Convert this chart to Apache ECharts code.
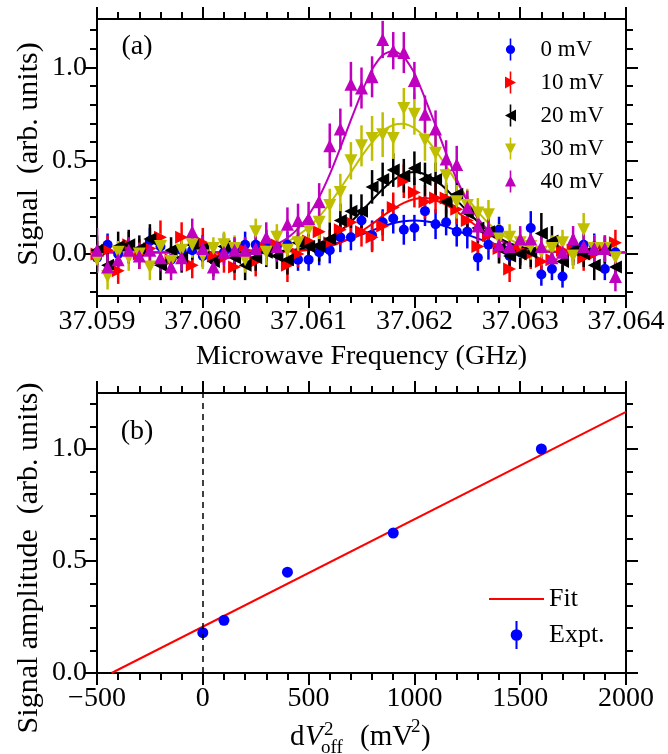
<!DOCTYPE html>
<html><head><meta charset="utf-8">
<script src="https://cdn.jsdelivr.net/npm/echarts@6/dist/echarts.min.js"></script>
<style>html,body{margin:0;padding:0;background:#fff}#c{width:668px;height:754px}</style>
</head><body><div id="c"></div>
<script>
// ---------- Panel (a) data ----------
const freq = [37.0590,37.0591,37.0592,37.0593,37.0594,37.0595,37.0596,37.0597,37.0598,37.0599,
  37.0600,37.0601,37.0602,37.0603,37.0604,37.0605,37.0606,37.0607,37.0608,37.0609,
  37.0610,37.0611,37.0612,37.0613,37.0614,37.0615,37.0616,37.0617,37.0618,37.0619,
  37.0620,37.0621,37.0622,37.0623,37.0624,37.0625,37.0626,37.0627,37.0628,37.0629,
  37.0630,37.0631,37.0632,37.0633,37.0634,37.0635,37.0636,37.0637,37.0638,37.0639,37.0640];

const sig0 = [-0.02,0.05,0.00,0.02,0.00,0.07,0.04,-0.03,0.02,0.02,
  -0.01,-0.03,0.01,0.02,0.05,0.05,0.06,0.04,0.05,-0.03,
  -0.03,0.01,0.02,0.09,0.09,0.18,0.10,0.17,0.19,0.13,
  0.14,0.23,0.16,0.17,0.12,0.12,-0.02,0.05,0.13,-0.01,
  0.01,0.14,-0.11,-0.08,-0.12,0.03,0.05,0.04,-0.08,0.01,null];
const sig10 = [0.00,0.02,-0.09,0.05,0.00,0.03,0.09,-0.03,0.09,-0.06,
  0.06,-0.01,-0.02,-0.07,0.02,-0.04,0.03,0.05,-0.06,0.00,
  0.07,0.12,0.06,0.13,0.17,0.12,0.09,0.15,0.25,0.39,
  0.33,0.28,0.30,0.30,0.24,0.18,0.04,0.10,0.03,-0.08,
  0.02,0.00,-0.04,-0.03,0.02,0.02,-0.02,0.00,0.03,0.06,null];
const sig20 = [0.02,-0.06,0.04,0.05,0.03,0.08,-0.06,0.02,-0.02,0.05,
  0.03,-0.04,0.04,-0.02,-0.06,-0.02,0.01,-0.01,-0.03,0.06,
  0.04,0.04,0.08,0.18,0.23,0.23,0.36,0.40,0.45,0.42,
  0.46,0.40,0.40,0.28,0.32,0.22,0.14,0.12,0.03,-0.01,
  0.00,0.01,0.11,0.07,-0.04,0.02,0.00,-0.06,0.02,-0.07,null];
const sig30 = [-0.03,-0.12,0.01,-0.02,0.00,-0.07,0.04,-0.04,0.02,0.05,
  -0.01,0.03,0.05,0.03,-0.03,0.12,0.01,0.09,0.02,0.06,
  0.13,0.17,0.26,0.33,0.50,0.58,0.62,0.64,0.62,0.78,
  0.75,0.61,0.54,0.42,0.28,0.26,0.22,0.21,0.08,0.09,
  0.06,0.04,0.01,0.03,0.06,-0.01,0.13,0.03,0.03,-0.02,null];
const sig40 = [0.02,-0.07,-0.03,0.02,-0.01,0.02,-0.02,-0.07,-0.02,0.12,
  0.03,-0.07,0.01,0.02,0.02,0.03,0.09,0.04,0.16,0.18,
  0.19,0.28,0.58,0.67,0.91,0.89,0.95,1.15,1.09,1.08,
  0.93,0.75,0.67,0.51,0.48,0.25,0.15,0.13,0.05,0.04,
  0.08,0.08,0.04,-0.02,0.01,0.08,0.04,0.03,0.03,-0.12,null];

const err0 = [0.07,0.06,0.07,0.06,0.06,0.07,0.06,0.07,0.06,0.07,
  0.06,0.07,0.06,0.06,0.07,0.06,0.07,0.06,0.07,0.06,
  0.06,0.07,0.07,0.08,0.07,0.07,0.08,0.07,0.08,0.08,
  0.07,0.08,0.08,0.07,0.08,0.09,0.07,0.08,0.07,0.08,
  0.07,0.09,0.06,0.06,0.06,0.07,0.06,0.07,0.06,0.06,null];
const err10 = [0.07,0.08,0.07,0.07,0.08,0.07,0.09,0.07,0.08,0.07,
  0.08,0.07,0.08,0.07,0.07,0.08,0.07,0.08,0.09,0.07,
  0.07,0.08,0.07,0.08,0.07,0.08,0.08,0.08,0.08,0.09,
  0.08,0.09,0.08,0.08,0.08,0.08,0.08,0.08,0.08,0.07,
  0.07,0.08,0.07,0.07,0.07,0.08,0.07,0.07,0.07,0.07,null];
const err20 = [0.08,0.07,0.08,0.08,0.07,0.08,0.08,0.07,0.08,0.08,
  0.07,0.08,0.07,0.08,0.08,0.07,0.08,0.07,0.08,0.08,
  0.08,0.08,0.09,0.09,0.09,0.09,0.09,0.09,0.09,0.09,
  0.09,0.09,0.09,0.09,0.09,0.09,0.08,0.08,0.08,0.08,
  0.08,0.08,0.11,0.08,0.07,0.08,0.07,0.08,0.07,0.08,null];
const err30 = [0.07,0.07,0.06,0.07,0.06,0.07,0.07,0.06,0.07,0.07,
  0.07,0.06,0.07,0.07,0.07,0.07,0.07,0.07,0.07,0.08,
  0.08,0.09,0.09,0.10,0.10,0.11,0.12,0.12,0.11,0.11,
  0.11,0.11,0.10,0.10,0.09,0.09,0.08,0.08,0.08,0.07,
  0.08,0.07,0.07,0.07,0.07,0.07,0.09,0.07,0.07,0.07,null];
const err40 = [0.12,0.07,0.07,0.07,0.07,0.07,0.07,0.07,0.07,0.07,
  0.07,0.07,0.07,0.07,0.07,0.07,0.08,0.08,0.09,0.09,
  0.09,0.10,0.12,0.11,0.12,0.11,0.11,0.10,0.10,0.11,
  0.10,0.10,0.10,0.10,0.10,0.09,0.08,0.08,0.07,0.07,
  0.07,0.07,0.07,0.07,0.07,0.07,0.07,0.07,0.07,0.08,null];

// fitted curves at each frequency in freq
const fit0 = [0.01,0.01,0.01,0.01,0.01,0.01,0.01,0.01,0.01,0.01,
  0.01,0.01,0.01,0.01,0.01,0.01,0.012,0.013,0.016,0.020,
  0.026,0.035,0.047,0.063,0.083,0.104,0.126,0.147,0.165,0.176,
  0.18,0.176,0.165,0.147,0.126,0.104,0.083,0.063,0.047,0.035,
  0.026,0.020,0.016,0.013,0.012,0.01,0.01,0.01,0.01,0.01,0.01];
const fit10 = [0.01,0.01,0.01,0.01,0.01,0.01,0.01,0.01,0.01,0.01,
  0.01,0.01,0.01,0.01,0.01,0.01,0.01,0.011,0.013,0.016,
  0.021,0.029,0.042,0.062,0.088,0.122,0.161,0.203,0.242,0.274,
  0.295,0.30,0.288,0.263,0.227,0.186,0.145,0.107,0.077,0.053,
  0.036,0.025,0.018,0.014,0.012,0.01,0.01,0.01,0.01,0.01,0.01];
const fit20 = [0.01,0.01,0.01,0.01,0.01,0.01,0.01,0.01,0.01,0.01,
  0.01,0.01,0.01,0.01,0.01,0.01,0.012,0.014,0.019,0.026,
  0.039,0.058,0.086,0.124,0.172,0.229,0.289,0.347,0.396,0.428,
  0.44,0.428,0.396,0.347,0.289,0.229,0.172,0.124,0.086,0.058,
  0.039,0.026,0.019,0.014,0.012,0.01,0.01,0.01,0.01,0.01,0.01];
const fit30 = [0.01,0.01,0.01,0.01,0.01,0.01,0.01,0.01,0.01,0.01,
  0.01,0.01,0.01,0.013,0.016,0.022,0.031,0.045,0.067,0.100,
  0.143,0.200,0.271,0.351,0.437,0.523,0.599,0.658,0.692,0.699,
  0.675,0.625,0.555,0.472,0.385,0.302,0.227,0.165,0.116,0.079,
  0.053,0.036,0.025,0.018,0.014,0.012,0.01,0.01,0.01,0.01,0.01];
const fit40 = [0.01,0.01,0.01,0.01,0.01,0.01,0.01,0.01,0.01,0.01,
  0.01,0.01,0.011,0.013,0.016,0.022,0.033,0.053,0.086,0.136,
  0.208,0.305,0.427,0.569,0.719,0.863,0.99,1.067,1.09,1.056,
  0.97,0.835,0.689,0.540,0.401,0.284,0.192,0.124,0.078,0.048,
  0.030,0.020,0.015,0.012,0.01,0.01,0.01,0.01,0.01,0.01,0.01];

const seriesNames = ['0 mV','10 mV','20 mV','30 mV','40 mV'];

// ---------- Panel (b) data ----------
const dV2 = [0, 100, 400, 900, 1600];
const amp = [0.18, 0.235, 0.45, 0.625, 1.0];
const ampErr = [0.01, 0.01, 0.01, 0.01, 0.01];
const fitX = [-431, 2000];
const fitY = [0, 1.166];

// ---------- tick values ----------
const topYMajor = [0, 0.5, 1.0];
const topYMinor = [-0.2,-0.1,0.1,0.2,0.3,0.4,0.6,0.7,0.8,0.9,1.1,1.2];
const botYMajor = [0, 0.5, 1.0];
const botYMinor = [0.1,0.2,0.3,0.4,0.6,0.7,0.8,0.9,1.1,1.2];

// ---------- styling ----------
const FONT = '"Liberation Serif","Times New Roman",serif';
const BLACK = '#000';
const LW = 2;
const COLORS = ['#0000FF','#FF0000','#000000','#BFBF00','#BF00BF'];
const SYMBOLS = ['circle','triangle','triangle','triangle','triangle'];
const ROTS = [0,-90,90,180,0];
const SIZES = [10,13,13,13,13];
const ICONS = [
  'path://M5.2,0H6.8V7H5.2Z M5.2,15H6.8V22H5.2Z M1.4,11 A4.6,4.6 0 1 1 10.6,11 A4.6,4.6 0 1 1 1.4,11 Z',
  'path://M5.2,0H6.8V8H5.2Z M5.2,14H6.8V22H5.2Z M0.5,5 L11.5,11 L0.5,17 Z',
  'path://M5.2,0H6.8V8H5.2Z M5.2,14H6.8V22H5.2Z M11.5,5 L11.5,17 L0.5,11 Z',
  'path://M5.2,0H6.8V8H5.2Z M5.2,14H6.8V22H5.2Z M0.5,6 L11.5,6 L6,17 Z',
  'path://M5.2,0H6.8V8H5.2Z M5.2,14H6.8V22H5.2Z M6,5 L11.5,16 L0.5,16 Z'
];
const LINE_ICON = 'path://M0,0H100V3.6H0Z';

function xAx(grid, pos, min, max, interval, showLabel, fmt, name) {
  return {type:'value', gridIndex:grid, position:pos, min:min, max:max, interval:interval,
    axisLine:{show:true,onZero:false,lineStyle:{color:BLACK,width:LW}},
    axisTick:{show:true,inside:false,length:12,lineStyle:{color:BLACK,width:LW}},
    minorTick:{show:true,splitNumber:5,length:7,lineStyle:{color:BLACK,width:LW}},
    splitLine:{show:false}, minorSplitLine:{show:false},
    axisLabel:{show:showLabel, formatter:fmt, fontFamily:FONT, fontSize:28, color:BLACK, margin:12,
      showMinLabel:true, showMaxLabel:true},
    name:name||'', nameLocation:'middle', nameGap:47,
    nameTextStyle:{fontFamily:FONT,fontSize:28,color:BLACK}};
}
function yAx(grid, pos, min, max, ticks, len, showLabel) {
  return {type:'value', gridIndex:grid, position:pos, min:min, max:max,
    axisLine:{show:true,onZero:false,lineStyle:{color:BLACK,width:LW}},
    axisTick:{show:true,inside:false,length:len,customValues:ticks,lineStyle:{color:BLACK,width:LW}},
    axisLabel:{show:showLabel, customValues:ticks, formatter:function(v){return Number(v).toFixed(1);},
      fontFamily:FONT, fontSize:28, color:BLACK, margin:10},
    splitLine:{show:false}};
}
function errRender(color, w) {
  return function(params, api) {
    const x = api.value(0), y = api.value(1), e = api.value(2);
    const p1 = api.coord([x, y - e]), p2 = api.coord([x, y + e]);
    return {type:'line', shape:{x1:p1[0],y1:p1[1],x2:p2[0],y2:p2[1]},
      style:{stroke:color, lineWidth:w}};
  };
}

const sigs = [sig0, sig10, sig20, sig30, sig40];
const errs = [err0, err10, err20, err30, err40];
const fits = [fit0, fit10, fit20, fit30, fit40];

const series = [];
for (let k = 0; k < 5; k++) {
  series.push({type:'line', name:seriesNames[k]+' fit', xAxisIndex:0, yAxisIndex:0,
    data: freq.map(function(x,i){return [x, fits[k][i]];}), symbol:'none', showSymbol:false,
    smooth:0.2, lineStyle:{color:COLORS[k], width:2}, z:2, silent:true, clip:true});
}
for (let k = 0; k < 5; k++) {
  series.push({type:'custom', name:seriesNames[k]+' err', xAxisIndex:0, yAxisIndex:0,
    data: freq.map(function(x,i){return [x, sigs[k][i], errs[k][i]];}).filter(function(d){return d[1]!==null;}),
    renderItem: errRender(COLORS[k], 2.5), encode:{x:0,y:1}, z:3, silent:true, clip:true});
  series.push({type:'scatter', name:seriesNames[k], xAxisIndex:0, yAxisIndex:0,
    data: freq.map(function(x,i){return [x, sigs[k][i]];}).filter(function(d){return d[1]!==null;}),
    symbol:SYMBOLS[k], symbolRotate:ROTS[k], symbolSize:SIZES[k],
    itemStyle:{color:COLORS[k], opacity:1}, z:4, clip:true, silent:true});
}
series.push({type:'line', name:'Fit', xAxisIndex:2, yAxisIndex:4,
  data: fitX.map(function(x,i){return [x, fitY[i]];}), symbol:'none', showSymbol:false,
  lineStyle:{color:'#FF0000', width:2}, itemStyle:{color:'#FF0000'}, z:2, silent:true,
  markLine:{silent:true, symbol:'none', label:{show:false},
    lineStyle:{color:BLACK, type:[6,5], width:1.5}, data:[{xAxis:0}]}});
series.push({type:'custom', name:'Expt. err', xAxisIndex:2, yAxisIndex:4,
  data: dV2.map(function(x,i){return [x, amp[i], ampErr[i]];}),
  renderItem: errRender('#0000FF', 2.5), encode:{x:0,y:1}, z:3, silent:true});
series.push({type:'scatter', name:'Expt.', xAxisIndex:2, yAxisIndex:4,
  data: dV2.map(function(x,i){return [x, amp[i]];}), symbol:'circle', symbolSize:11,
  itemStyle:{color:'#0000FF', opacity:1}, z:4, silent:true});

const chart = echarts.init(document.getElementById('c'), null, {renderer:'canvas'});
chart.setOption({
  animation:false,
  backgroundColor:'#fff',
  grid:[
    {left:97, top:19, width:529, height:277},
    {left:97, top:393, width:529, height:280}
  ],
  xAxis:[
    xAx(0,'bottom',37.059,37.064,0.001,true,function(v){return Number(v).toFixed(3);},'Microwave Frequency (GHz)'),
    xAx(0,'top',37.059,37.064,0.001,false,null,''),
    xAx(1,'bottom',-500,2000,500,true,function(v){return v<0?'\u2212'+Math.abs(v):String(v);},''),
    xAx(1,'top',-500,2000,500,false,null,'')
  ],
  yAxis:[
    yAx(0,'left',-0.225,1.26,topYMajor,12,true),
    yAx(0,'left',-0.225,1.26,topYMinor,7,false),
    yAx(0,'right',-0.225,1.26,topYMajor,12,false),
    yAx(0,'right',-0.225,1.26,topYMinor,7,false),
    yAx(1,'left',0,1.25,botYMajor,12,true),
    yAx(1,'left',0,1.25,botYMinor,7,false),
    yAx(1,'right',0,1.25,botYMajor,12,false),
    yAx(1,'right',0,1.25,botYMinor,7,false)
  ],
  legend:[
    {data: seriesNames.map(function(n,k){return {name:n, icon:ICONS[k]};}),
     orient:'vertical', left:500, top:33, itemWidth:50, itemHeight:22, itemGap:10,
     selectedMode:false, textStyle:{fontFamily:FONT, fontSize:23, color:BLACK}},
    {data:[{name:'Fit', icon:LINE_ICON},{name:'Expt.', icon:ICONS[0]}],
     orient:'vertical', left:484, top:581, itemWidth:55, itemHeight:28, itemGap:9,
     selectedMode:false, textStyle:{fontFamily:FONT, fontSize:26, color:BLACK}}
  ],
  graphic:[
    {type:'text', x:137, y:47, style:{text:'(a)', fontFamily:FONT, fontSize:28, fill:BLACK, align:'center', verticalAlign:'middle'}},
    {type:'text', x:137, y:432, style:{text:'(b)', fontFamily:FONT, fontSize:28, fill:BLACK, align:'center', verticalAlign:'middle'}},
    {type:'text', x:29, y:154, rotation:Math.PI/2, style:{text:'Signal  (arb. units)', fontFamily:FONT, fontSize:30, fill:BLACK, align:'center', verticalAlign:'middle'}},
    {type:'text', x:29, y:558, rotation:Math.PI/2, style:{text:'Signal amplitude  (arb. units)', fontFamily:FONT, fontSize:30, fill:BLACK, align:'center', verticalAlign:'middle'}},
    {type:'text', x:290, y:737, style:{text:'d', fontFamily:FONT, fontSize:29, fill:BLACK, align:'left', verticalAlign:'middle'}},
    {type:'text', x:305, y:737, style:{text:'V', fontFamily:FONT, fontSize:29, fontStyle:'italic', fill:BLACK, align:'left', verticalAlign:'middle'}},
    {type:'text', x:324, y:730, style:{text:'2', fontFamily:FONT, fontSize:19, fill:BLACK, align:'left', verticalAlign:'middle'}},
    {type:'text', x:321, y:748, style:{text:'off', fontFamily:FONT, fontSize:19, fill:BLACK, align:'left', verticalAlign:'middle'}},
    {type:'text', x:360, y:737, style:{text:'(mV', fontFamily:FONT, fontSize:29, fill:BLACK, align:'left', verticalAlign:'middle'}},
    {type:'text', x:411, y:727, style:{text:'2', fontFamily:FONT, fontSize:19, fill:BLACK, align:'left', verticalAlign:'middle'}},
    {type:'text', x:421, y:737, style:{text:')', fontFamily:FONT, fontSize:29, fill:BLACK, align:'left', verticalAlign:'middle'}}
  ],
  series: series
});
</script>
</body></html>
